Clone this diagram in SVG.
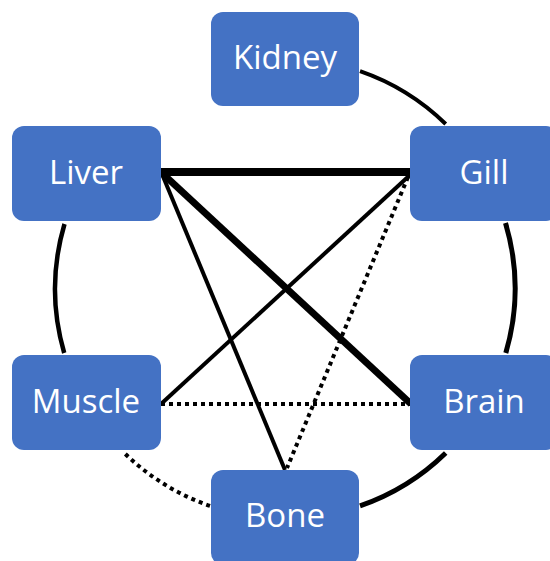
<svg xmlns="http://www.w3.org/2000/svg" width="550" height="561" viewBox="0 0 550 561">
<style>
.box{fill:#4472C4;}
.lbl{font-family:"Open Sans","Liberation Sans",sans-serif;font-size:33px;fill:#ffffff;text-anchor:middle;}
.c{fill:none;stroke:#000;stroke-linecap:butt;}
.dot{stroke-dasharray:4 4;}
</style>
<rect width="550" height="561" fill="#ffffff"/>
<g id="connectors">
<path class="c" stroke-width="4" d="M360 71.1 A230 230 0 0 1 445.7 124"/>
<path class="c" stroke-width="5" d="M505.5 223 A230 230 0 0 1 505.8 353"/>
<path class="c" stroke-width="5" d="M445.7 453 A230 230 0 0 1 360 505.9"/>
<path class="c dot" stroke-width="4" d="M210 505.9 A230 230 0 0 1 124.3 453"/>
<path class="c" stroke-width="4.5" d="M64.2 353 A230 230 0 0 1 64.5 224"/>
<line class="c" stroke-width="8" x1="161" y1="172" x2="411" y2="172"/>
<line class="c" stroke-width="7" x1="162" y1="173" x2="411" y2="404"/>
<line class="c" stroke-width="4" x1="162" y1="174" x2="285" y2="470"/>
<line class="c" stroke-width="4" x1="410" y1="175" x2="161" y2="404"/>
<line class="c dot" stroke-width="4" x1="408" y1="177" x2="287" y2="468"/>
<line class="c dot" stroke-width="4" x1="161" y1="404" x2="410" y2="404"/>
</g>
<g id="kidney"><rect class="box" x="211" y="12" width="148" height="94" rx="12"/><text class="lbl" x="285" y="69">Kidney</text></g>
<g id="liver"><rect class="box" x="12" y="126" width="149" height="95" rx="12"/><text class="lbl" x="86" y="184">Liver</text></g>
<g id="gill"><rect class="box" x="410" y="126" width="148" height="95" rx="12"/><text class="lbl" x="484" y="184">Gill</text></g>
<g id="muscle"><rect class="box" x="12" y="355" width="149" height="95" rx="12"/><text class="lbl" x="86" y="413">Muscle</text></g>
<g id="brain"><rect class="box" x="410" y="355" width="148" height="95" rx="12"/><text class="lbl" x="484" y="413">Brain</text></g>
<g id="bone"><rect class="box" x="211" y="470" width="148" height="95" rx="12"/><text class="lbl" x="285" y="527">Bone</text></g>
</svg>
